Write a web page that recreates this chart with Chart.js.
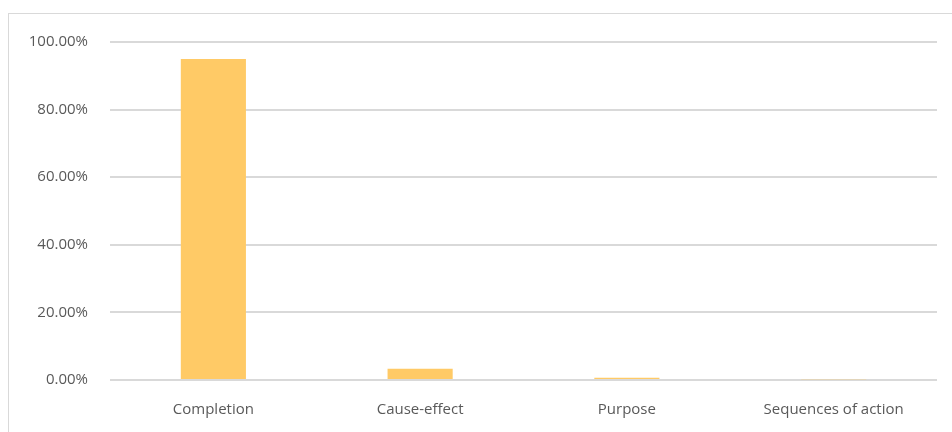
<!DOCTYPE html>
<html>
<head>
<meta charset="utf-8">
<script src="https://cdn.jsdelivr.net/npm/chart.js@4"></script>
<style>
  body { margin: 0; background: #fff; }
  #wrap { position: relative; width: 952px; height: 432px; }
  #frame { position: absolute; left: 8px; top: 13px; width: 960px; height: 440px;
           border-left: 1px solid #d9d9d9; border-top: 1px solid #d9d9d9; }
</style>
</head>
<body>
<div id="wrap">
  <div id="frame"></div>
  <canvas id="myChart" width="952" height="432"></canvas>
</div>
<script>
"use strict";

// data (percent)
const categories = ['Completion', 'Cause-effect', 'Purpose', 'Sequences of action'];
const shares = [95.0, 3.3, 0.7, 0.2];
const yTicks = [0, 20, 40, 60, 80, 100];

const my_data = {
  labels: categories,
  datasets: [{
    data: shares,
    backgroundColor: '#ffca66',
    barPercentage: 0.63,
    categoryPercentage: 0.5
  }]
}

const config = {
  type: 'bar',
  data: my_data,
  options: {
    responsive: false,
    animation: false,
    layout: { padding: { left: 10, right: 15, top: 42, bottom: 0 } },
    plugins: {
      legend: { display: false },
      tooltip: { enabled: false }
    },
    scales: {
      x: {
        grid: { display: false },
        border: { display: false },
        ticks: { color: '#595959', font: { family: 'Open Sans', size: 15 }, padding: 13, maxRotation: 0 },
        afterFit: (s) => { s.height = 52 }
      },
      y: {
        min: 0,
        max: 100,
        afterBuildTicks: (s) => { s.ticks = yTicks.map(v => ({ value: v })) },
        grid: { color: '#d9d9d9', lineWidth: 2, drawTicks: false },
        border: { display: false },
        ticks: {
          color: '#595959',
          font: { family: 'Open Sans', size: 15 },
          padding: 22,
          callback: (v) => v.toFixed(2) + '%'
        },
        afterFit: (s) => { s.width = 100 }
      }
    }
  }
}

const my_chart = new Chart(document.getElementById('myChart'), config)
</script>
</body>
</html>
